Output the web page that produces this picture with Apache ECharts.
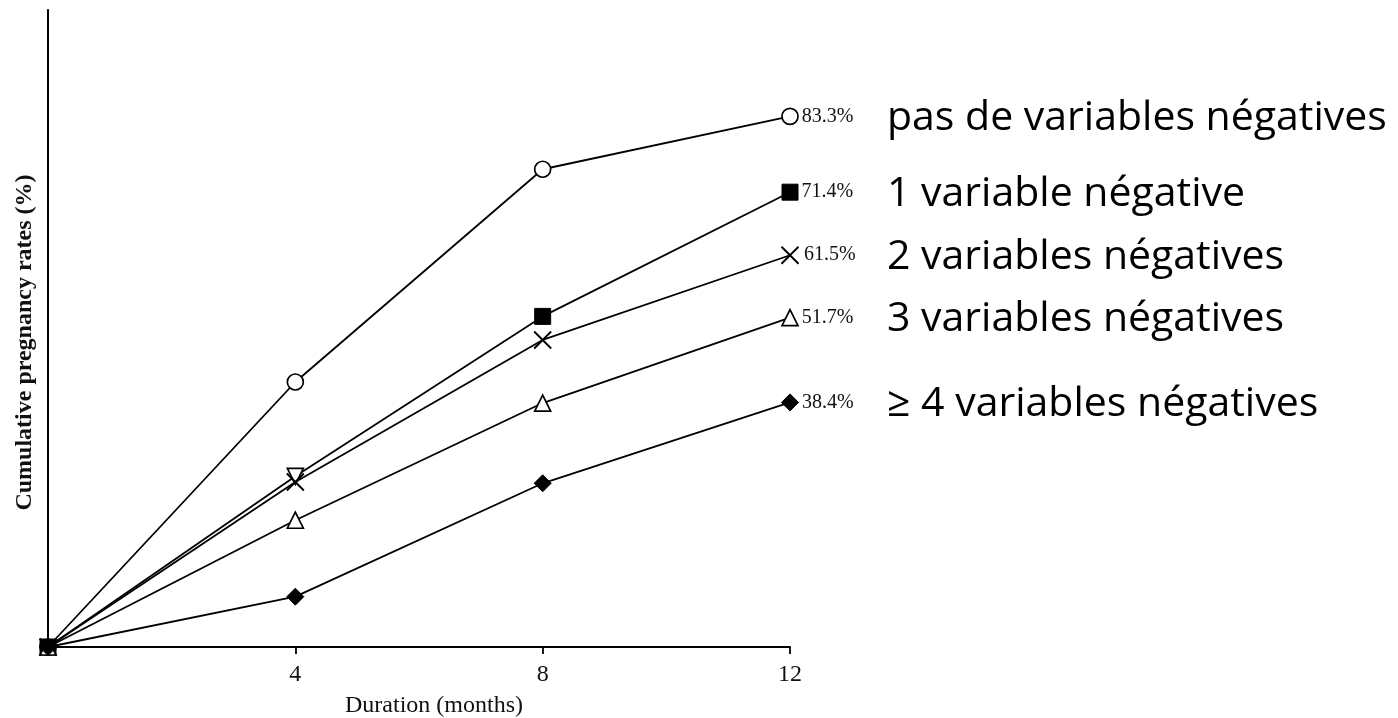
<!DOCTYPE html>
<html><head><meta charset="utf-8">
<script src="https://cdn.jsdelivr.net/npm/echarts@6/dist/echarts.min.js"></script>
<style>html,body{margin:0;padding:0;background:#fff}#c{width:1398px;height:718px}</style>
</head><body><div id="c"></div>
<script>
const months = [0, 4, 8, 12];
const seriesNames = ['pas de variables négatives', '1 variable négative', '2 variables négatives', '3 variables négatives', '≥ 4 variables négatives'];
const noNegative = [0, 41.6, 75.0, 83.3];
const oneNegative = [0, 26.8, 51.9, 71.4];
const twoNegative = [0, 25.9, 48.2, 61.5];
const threeNegative = [0, 19.9, 38.3, 51.7];
const fourPlusNegative = [0, 7.9, 25.7, 38.4];
const endLabels = ['83.3%', '71.4%', '61.5%', '51.7%', '38.4%'];
const xAxisTitle = 'Duration (months)';
const yAxisTitle = 'Cumulative pregnancy rates (%)';

const allValues = [noNegative, oneNegative, twoNegative, threeNegative, fourPlusNegative];
const serif = '"Liberation Serif", "Times New Roman", serif';
const open = { color: '#fff', borderColor: '#000', borderWidth: 1.7 };
const filled = { color: '#000', borderColor: '#000', borderWidth: 1 };
const styles = [
  { symbol: 'circle', size: 16, item: open },
  { symbol: 'rect', size: 16, item: filled },
  { symbol: 'path://M0,0L20,20M20,0L0,20', size: 17, item: { color: 'none', borderColor: '#000', borderWidth: 1.9 } },
  { symbol: 'triangle', size: 16, item: open },
  { symbol: 'diamond', size: 17, item: filled }
];

const series = allValues.map((vals, i) => ({
  name: seriesNames[i],
  type: 'line',
  symbol: styles[i].symbol,
  symbolSize: styles[i].size,
  itemStyle: styles[i].item,
  lineStyle: { color: '#000', width: 1.8 },
  z: 2 + i,
  data: vals.map((v, j) => {
    const d = { value: [months[j], v] };
    if (i === 1 && j === 1) {
      d.symbol = 'triangle'; d.symbolRotate = 180; d.itemStyle = open;
    }
    if (j === vals.length - 1) {
      d.label = { show: true, position: 'right', distance: 3, formatter: endLabels[i],
        fontFamily: serif, fontSize: 20, color: '#111' };
    }
    return d;
  })
}));

const chart = echarts.init(document.getElementById('c'), null, { renderer: 'canvas' });
chart.setOption({
  animation: false,
  backgroundColor: '#fff',
  grid: { left: 48, right: 608, top: 10, bottom: 71, containLabel: false, outerBoundsMode: 'none' },
  xAxis: {
    type: 'value', min: 0, max: 12, interval: 4,
    axisLine: { show: true, lineStyle: { color: '#000', width: 2 } },
    axisTick: { show: true, length: 7, lineStyle: { color: '#000', width: 1.8 } },
    axisLabel: { formatter: v => (v === 0 ? '' : String(v)), fontFamily: serif, fontSize: 24, color: '#111', margin: 16 },
    splitLine: { show: false },
    name: xAxisTitle, nameLocation: 'middle', nameGap: 47,
    nameTextStyle: { fontFamily: serif, fontSize: 24, color: '#111', padding: [0, 0, 0, 30] }
  },
  yAxis: {
    type: 'value', min: 0, max: 100,
    axisLine: { show: true, lineStyle: { color: '#000', width: 2 } },
    axisTick: { show: false }, axisLabel: { show: false }, splitLine: { show: false },
    name: yAxisTitle, nameLocation: 'middle', nameGap: 11,
    nameTextStyle: { fontFamily: serif, fontSize: 24, fontWeight: 'bold', color: '#111', padding: [0, 28, 0, 0] }
  },
  series: series
});

const graphics = seriesNames.map((name, i) => {
  const p = chart.convertToPixel({ gridIndex: 0 }, [12, allValues[i][3]]);
  return {
    type: 'text', x: 887, y: p[1] + 2,
    style: { text: name, fontFamily: '"Open Sans", "Noto Sans", sans-serif', fontSize: 41, fill: '#000', verticalAlign: 'middle' }
  };
});
chart.setOption({ graphic: graphics });
</script>
</body></html>
